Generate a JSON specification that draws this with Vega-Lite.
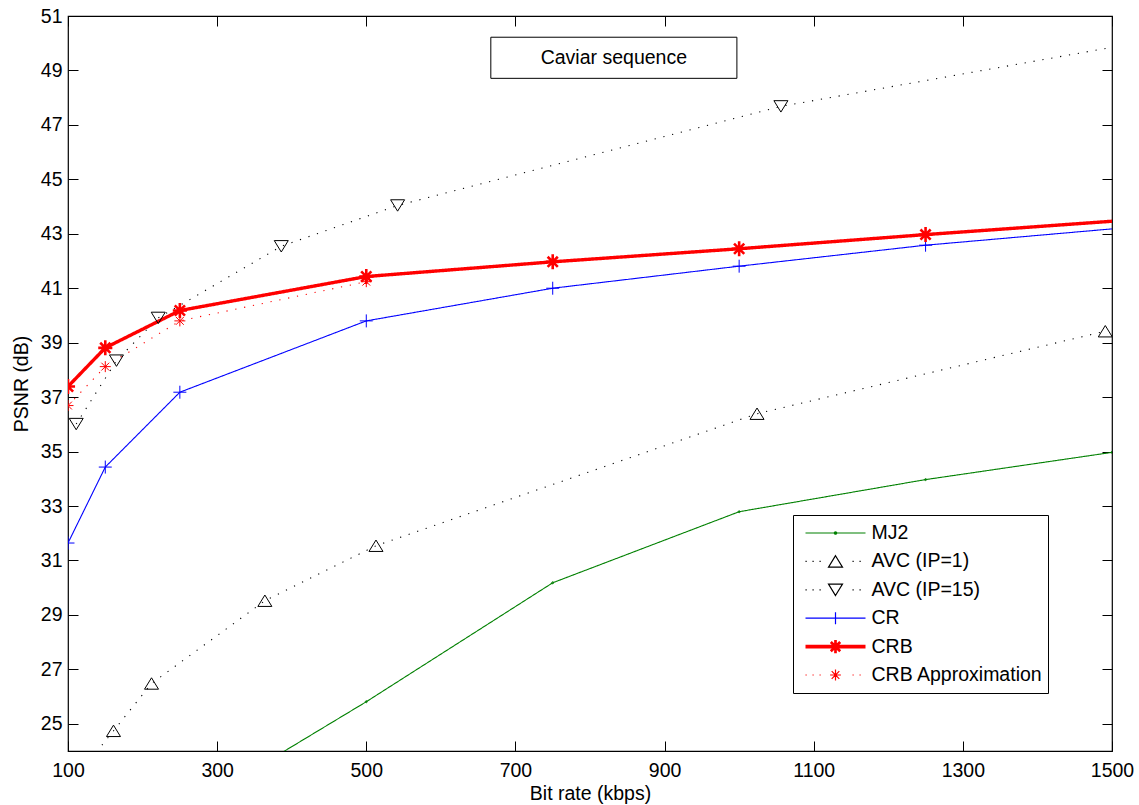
{
  "$schema": "https://vega.github.io/schema/vega-lite/v6.json",
  "width": 1044,
  "height": 735,
  "autosize": "none",
  "padding": {"left": 68, "top": 16, "right": 27, "bottom": 54},
  "background": "white",
  "config": {
    "view": {"stroke": "black", "strokeWidth": 1.2},
    "font": "Liberation Sans",
    "axis": {
      "domain": false,
      "grid": false,
      "labelFlush": false,
      "tickColor": "black",
      "tickWidth": 1,
      "tickSize": -10,
      "labelFont": "Liberation Sans",
      "labelFontSize": 19.5,
      "labelColor": "black",
      "titleFont": "Liberation Sans",
      "titleFontSize": 19.5,
      "titleFontWeight": "normal",
      "titleColor": "black"
    },
    "legend": {
      "orient": "none",
      "legendX": 725,
      "legendY": 499,
      "columns": 1,
      "symbolSize": 3600,
      "symbolStrokeWidth": 1.2,
      "clipHeight": 27,
      "rowPadding": 1.4,
      "padding": 4.5,
      "symbolOffset": 7,
      "labelOffset": 5,
      "strokeColor": "black",
      "fillColor": "white",
      "labelFont": "Liberation Sans",
      "labelFontSize": 19.5,
      "labelColor": "black",
      "labelLimit": 400,
      "symbolOpacity": 1
    }
  },
  "data": {
    "values": [
      {"series": "MJ2", "x": 250, "y": 21.68},
      {"series": "MJ2", "x": 500, "y": 25.81},
      {"series": "MJ2", "x": 750, "y": 30.18},
      {"series": "MJ2", "x": 1000, "y": 32.79},
      {"series": "MJ2", "x": 1250, "y": 33.97},
      {"series": "MJ2", "x": 1500, "y": 34.97},
      {"series": "AVC (IP=1)", "x": 100, "y": 22.67},
      {"series": "AVC (IP=1)", "x": 161, "y": 24.74},
      {"series": "AVC (IP=1)", "x": 212, "y": 26.48},
      {"series": "AVC (IP=1)", "x": 364, "y": 29.52},
      {"series": "AVC (IP=1)", "x": 513, "y": 31.54},
      {"series": "AVC (IP=1)", "x": 1024, "y": 36.39},
      {"series": "AVC (IP=1)", "x": 1491, "y": 39.42},
      {"series": "AVC (IP=15)", "x": 111, "y": 36.01},
      {"series": "AVC (IP=15)", "x": 165, "y": 38.34},
      {"series": "AVC (IP=15)", "x": 221, "y": 39.91},
      {"series": "AVC (IP=15)", "x": 386, "y": 42.54},
      {"series": "AVC (IP=15)", "x": 542, "y": 44.04},
      {"series": "AVC (IP=15)", "x": 1056, "y": 47.68},
      {"series": "AVC (IP=15)", "x": 2000, "y": 52.29},
      {"series": "CR", "x": 100, "y": 31.64},
      {"series": "CR", "x": 150, "y": 34.43},
      {"series": "CR", "x": 250, "y": 37.18},
      {"series": "CR", "x": 500, "y": 39.8},
      {"series": "CR", "x": 750, "y": 41.0},
      {"series": "CR", "x": 1000, "y": 41.81},
      {"series": "CR", "x": 1250, "y": 42.58},
      {"series": "CR", "x": 1750, "y": 43.78},
      {"series": "CRB", "x": 100, "y": 37.39},
      {"series": "CRB", "x": 150, "y": 38.81},
      {"series": "CRB", "x": 250, "y": 40.18},
      {"series": "CRB", "x": 500, "y": 41.43},
      {"series": "CRB", "x": 750, "y": 41.97},
      {"series": "CRB", "x": 1000, "y": 42.45},
      {"series": "CRB", "x": 1250, "y": 42.97},
      {"series": "CRB", "x": 1750, "y": 43.95},
      {"series": "CRB Approximation", "x": 100, "y": 36.69},
      {"series": "CRB Approximation", "x": 150, "y": 38.12},
      {"series": "CRB Approximation", "x": 250, "y": 39.8},
      {"series": "CRB Approximation", "x": 500, "y": 41.24}
    ]
  },
  "resolve": {"scale": {"shape": "independent", "stroke": "independent"}},
  "layer": [
    {
      "mark": {"type": "line", "clip": true},
      "encoding": {
        "x": {"field": "x", "type": "quantitative", "scale": {"domain": [100, 1500], "nice": false, "zero": false},
          "axis": {"orient": "bottom", "values": [100, 300, 500, 700, 900, 1100, 1300, 1500], "format": "d", "title": "Bit rate (kbps)", "labelPadding": 20, "titlePadding": 5}},
        "y": {"field": "y", "type": "quantitative", "scale": {"domain": [24, 51], "nice": false, "zero": false},
          "axis": {"orient": "left", "values": [25, 27, 29, 31, 33, 35, 37, 39, 41, 43, 45, 47, 49, 51], "title": "PSNR (dB)", "labelPadding": 16, "titlePadding": 9}},
        "color": {"field": "series", "type": "nominal",
          "scale": {"domain": ["MJ2", "AVC (IP=1)", "AVC (IP=15)", "CR", "CRB", "CRB Approximation"], "range": ["#008000", "#000000", "#000000", "#0000ff", "#ff0000", "#ff0000"]},
          "legend": null},
        "strokeDash": {"field": "series", "type": "nominal",
          "scale": {"domain": ["MJ2", "AVC (IP=1)", "AVC (IP=15)", "CR", "CRB", "CRB Approximation"], "range": [[1, 0], [1.2, 7.8], [1.2, 7.8], [1, 0], [1, 0], [1.2, 7.8]]},
          "legend": null},
        "strokeWidth": {"condition": {"test": "datum.series === 'CRB'", "value": 3.4}, "value": 1.1}
      }
    },
    {
      "transform": [{"filter": "datum.series === 'MJ2'"}],
      "mark": {"type": "point", "shape": "M-0.067,0A0.067,0.067,0,1,0,0.067,0A0.067,0.067,0,1,0,-0.067,0", "filled": false, "opacity": 1, "size": 900, "strokeWidth": 1, "clip": true},
      "encoding": {
        "x": {"field": "x", "type": "quantitative",
          "axis": {"orient": "top", "values": [100, 300, 500, 700, 900, 1100, 1300, 1500], "labels": false, "title": null}},
        "y": {"field": "y", "type": "quantitative",
          "axis": {"orient": "right", "values": [25, 27, 29, 31, 33, 35, 37, 39, 41, 43, 45, 47, 49, 51], "labels": false, "title": null}},
        "color": {"field": "series", "type": "nominal", "legend": null}
      }
    },
    {
      "transform": [{"filter": "datum.series === 'AVC (IP=1)'"}],
      "mark": {"type": "point", "shape": "M0,-0.38L0.467,0.38L-0.467,0.38Z", "filled": false, "opacity": 1, "size": 900, "strokeWidth": 1, "clip": true},
      "encoding": {
        "x": {"field": "x", "type": "quantitative", "axis": null},
        "y": {"field": "y", "type": "quantitative", "axis": null},
        "color": {"field": "series", "type": "nominal", "legend": null}
      }
    },
    {
      "transform": [{"filter": "datum.series === 'AVC (IP=15)'"}],
      "mark": {"type": "point", "shape": "M0,0.38L0.467,-0.38L-0.467,-0.38Z", "filled": false, "opacity": 1, "size": 900, "strokeWidth": 1, "clip": true},
      "encoding": {
        "x": {"field": "x", "type": "quantitative", "axis": null},
        "y": {"field": "y", "type": "quantitative", "axis": null},
        "color": {"field": "series", "type": "nominal", "legend": null}
      }
    },
    {
      "transform": [{"filter": "datum.series === 'CR'"}],
      "mark": {"type": "point", "shape": "M-0.433,0H0.433M0,-0.433V0.433", "filled": false, "opacity": 1, "size": 900, "strokeWidth": 1, "clip": true},
      "encoding": {
        "x": {"field": "x", "type": "quantitative", "axis": null},
        "y": {"field": "y", "type": "quantitative", "axis": null},
        "color": {"field": "series", "type": "nominal", "legend": null}
      }
    },
    {
      "transform": [{"filter": "datum.series === 'CRB'"}],
      "mark": {"type": "point", "shape": "M-0.47,0H0.47M0,-0.5V0.5M-0.34,-0.34L0.34,0.34M-0.34,0.34L0.34,-0.34", "filled": false, "opacity": 1, "size": 900, "strokeWidth": 2.6, "clip": true},
      "encoding": {
        "x": {"field": "x", "type": "quantitative", "axis": null},
        "y": {"field": "y", "type": "quantitative", "axis": null},
        "color": {"field": "series", "type": "nominal", "legend": null}
      }
    },
    {
      "transform": [{"filter": "datum.series === 'CRB Approximation'"}],
      "mark": {"type": "point", "shape": "M-0.367,0H0.367M0,-0.367V0.367M-0.26,-0.26L0.26,0.26M-0.26,0.26L0.26,-0.26", "filled": false, "opacity": 1, "size": 900, "strokeWidth": 1, "clip": true},
      "encoding": {
        "x": {"field": "x", "type": "quantitative", "axis": null},
        "y": {"field": "y", "type": "quantitative", "axis": null},
        "color": {"field": "series", "type": "nominal", "legend": null}
      }
    },
    {
      "transform": [{"filter": "false"}],
      "mark": {"type": "point", "filled": false, "opacity": 1},
      "encoding": {
        "x": {"field": "x", "type": "quantitative", "axis": null},
        "y": {"field": "y", "type": "quantitative", "axis": null},
        "stroke": {"field": "series", "type": "nominal",
          "scale": {"domain": ["MJ2", "AVC (IP=1)", "AVC (IP=15)", "CR", "CRB", "CRB Approximation"], "range": ["#008000", "#000000", "#000000", "#0000ff", "#ff0000", "#ff0000"]},
          "legend": {"title": null}},
        "shape": {"field": "series", "type": "nominal",
          "scale": {"domain": ["MJ2", "AVC (IP=1)", "AVC (IP=15)", "CR", "CRB", "CRB Approximation"],
            "range": [
              "M-1,0H1M-0.04,0A0.04,0.04,0,1,0,0.04,0A0.04,0.04,0,1,0,-0.04,0",
              "M-1,0h0.04M-0.767,0h0.04M-0.533,0h0.04M0.567,0h0.04M0.8,0h0.04M0,-0.19L0.233,0.19L-0.233,0.19Z",
              "M-1,0h0.04M-0.767,0h0.04M-0.533,0h0.04M0.567,0h0.04M0.8,0h0.04M0,0.19L0.233,-0.19L-0.233,-0.19Z",
              "M-1,0H1M0,-0.2V0.2",
              "M-1,-0.04H1M-1,-0.013H1M-1,0.013H1M-1,0.04H1M-0.025,-0.22V0.22M0,-0.22V0.22M0.025,-0.22V0.22M-0.156,-0.156L0.156,0.156M-0.138,-0.174L0.174,0.138M-0.174,-0.138L0.138,0.174M-0.156,0.156L0.156,-0.156M-0.138,0.174L0.174,-0.138M-0.174,0.138L0.138,-0.174",
              "M-1,0h0.04M-0.767,0h0.04M-0.533,0h0.04M0.567,0h0.04M0.8,0h0.04M-0.18,0H0.18M0,-0.18V0.18M-0.127,-0.127L0.127,0.127M-0.127,0.127L0.127,-0.127"
            ]},
          "legend": {"title": null}}
      }
    },
    {
      "data": {"values": [{"label": "Caviar sequence"}]},
      "mark": {"type": "rect", "fill": "white", "stroke": "black", "strokeWidth": 1},
      "encoding": {
        "x": {"datum": 667, "type": "quantitative", "axis": null},
        "x2": {"datum": 997},
        "y": {"datum": 50.22, "type": "quantitative", "axis": null},
        "y2": {"datum": 48.71}
      }
    },
    {
      "data": {"values": [{"label": "Caviar sequence"}]},
      "mark": {"type": "text", "font": "Liberation Sans", "fontSize": 19.5, "color": "black", "align": "center", "baseline": "middle"},
      "encoding": {
        "x": {"datum": 832, "type": "quantitative", "axis": null},
        "y": {"datum": 49.46, "type": "quantitative", "axis": null},
        "text": {"field": "label", "type": "nominal"}
      }
    }
  ]
}
